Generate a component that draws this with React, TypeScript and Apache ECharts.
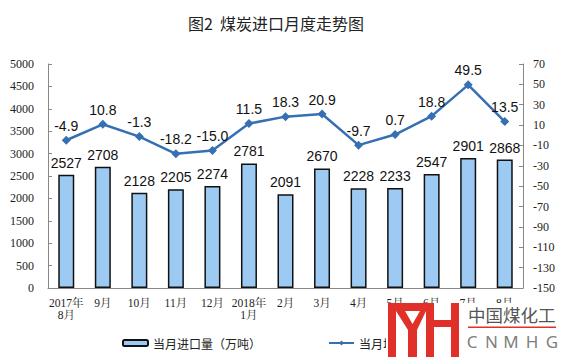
import React, { useEffect, useRef } from "react";
import * as echarts from "echarts";

const categories = ["2017年\n8月", "9月", "10月", "11月", "12月", "2018年\n1月", "2月", "3月", "4月", "5月", "6月", "7月", "8月"];
const importVolume = [2527, 2708, 2128, 2205, 2274, 2781, 2091, 2670, 2228, 2233, 2547, 2901, 2868];
const growthRate = [-4.9, 10.8, -1.3, -18.2, -15.0, 11.5, 18.3, 20.9, -9.7, 0.7, 18.8, 49.5, 13.5];
const barName = "当月进口量（万吨）";
const lineName = "当月增速（%）";
const titleText = "图2  煤炭进口月度走势图";

export default function App() {
  const ref = useRef<HTMLDivElement>(null);
  useEffect(() => {
    if (!ref.current) return;
    const chart = echarts.init(ref.current, null, { renderer: "svg" });
    const serif = "'Times New Roman', 'Liberation Serif', 'Noto Serif CJK SC', 'Noto Sans CJK SC', serif";
    const sans = "Arial, 'Liberation Sans', 'Noto Sans CJK SC', sans-serif";
    const red = "#E1302A";
    const Z = 100;
    const logo: any[] = [
      { type: "rect", shape: { x: 386, y: 303, width: 175, height: 54 }, style: { fill: "#ffffff" } },
      { type: "rect", shape: { x: 388, y: 303, width: 8, height: 54 }, style: { fill: red } },
      { type: "rect", shape: { x: 388, y: 303, width: 46, height: 8 }, style: { fill: red } },
      { type: "polygon", shape: { points: [[396, 311], [405, 311], [412.5, 324], [420, 311], [426, 311], [417, 330], [408, 330]] }, style: { fill: red } },
      { type: "rect", shape: { x: 408, y: 326, width: 9, height: 31 }, style: { fill: red } },
      { type: "rect", shape: { x: 426, y: 303, width: 8, height: 54 }, style: { fill: red } },
      { type: "rect", shape: { x: 434, y: 320, width: 17, height: 7 }, style: { fill: red } },
      { type: "rect", shape: { x: 451, y: 303, width: 8, height: 54 }, style: { fill: red } },
      {
        type: "text",
        x: 468,
        y: 314,
        style: { text: "中国煤化工", fontSize: 17.5, fontFamily: "'Noto Sans CJK SC', sans-serif", fill: "#555", verticalAlign: "middle", align: "left" },
      },
      { type: "rect", shape: { x: 468, y: 326.5, width: 88, height: 1.5 }, style: { fill: red } },
      ...["C", "N", "M", "H", "G"].map((ch, i) => ({
        type: "text",
        x: [472, 491.5, 511, 532, 552][i],
        y: 341,
        style: { text: ch, fontSize: 17, fontFamily: "'Noto Sans', sans-serif", fill: "#808080", verticalAlign: "middle", align: "center" },
      })),
    ].map((el, i) => ({ ...el, z: Z + i }));
    chart.setOption({
      animation: false,
      backgroundColor: "#ffffff",
      title: {
        text: titleText,
        left: 183,
        top: 10,
        textStyle: { fontFamily: "'Noto Sans CJK SC', sans-serif", fontSize: 16, fontWeight: "normal", color: "#222" },
      },
      legend: {
        left: 117,
        top: 332,
        itemWidth: 25,
        itemHeight: 6,
        itemGap: 67,
        textStyle: { fontFamily: "'Noto Sans CJK SC', sans-serif", fontSize: 12, color: "#222" },
        data: [barName, lineName],
      },
      grid: { left: 48, right: 38, top: 64, bottom: 69 },
      xAxis: {
        type: "category",
        data: categories,
        boundaryGap: true,
        axisLine: { lineStyle: { color: "#888", width: 1 } },
        axisTick: { inside: true, length: 4, lineStyle: { color: "#888" } },
        axisLabel: { fontFamily: serif, fontSize: 11.5, color: "#222", margin: 9, lineHeight: 12, interval: 0 },
      },
      yAxis: [
        {
          type: "value",
          min: 0,
          max: 5000,
          interval: 500,
          axisLine: { show: true, lineStyle: { color: "#888" } },
          axisTick: { show: true, inside: true, length: 4, lineStyle: { color: "#888" } },
          splitLine: { show: false },
          axisLabel: { fontFamily: serif, fontSize: 12, color: "#222", margin: 14, formatter: (v: number) => String(v) },
        },
        {
          type: "value",
          min: -150,
          max: 70,
          interval: 20,
          axisLine: { show: true, lineStyle: { color: "#888" } },
          axisTick: { show: true, inside: true, length: 4, lineStyle: { color: "#888" } },
          splitLine: { show: false },
          axisLabel: { fontFamily: serif, fontSize: 12, color: "#222", margin: 10, formatter: (v: number) => String(v) },
        },
      ],
      series: [
        {
          name: barName,
          type: "bar",
          data: importVolume,
          barWidth: 16,
          itemStyle: { color: "#9DCAF3", borderColor: "#111", borderWidth: 1.5 },
          label: { show: true, position: "top", distance: 5, fontFamily: sans, fontSize: 14, color: "#111" },
          z: 2,
        },
        {
          name: lineName,
          type: "line",
          yAxisIndex: 1,
          data: growthRate,
          symbol: "diamond",
          symbolSize: 9,
          lineStyle: { color: "#3470B2", width: 2.5 },
          itemStyle: { color: "#3470B2" },
          label: {
            show: true,
            position: "top",
            distance: 3,
            fontFamily: sans,
            fontSize: 14,
            color: "#111",
            formatter: (p: any) => Number(p.value).toFixed(1),
          },
          z: 3,
        },
      ],
      graphic: logo,
    });
    return () => chart.dispose();
  }, []);
  return <div ref={ref} style={{ position: "fixed", left: 0, top: 0, width: 561, height: 357 }} />;
}
